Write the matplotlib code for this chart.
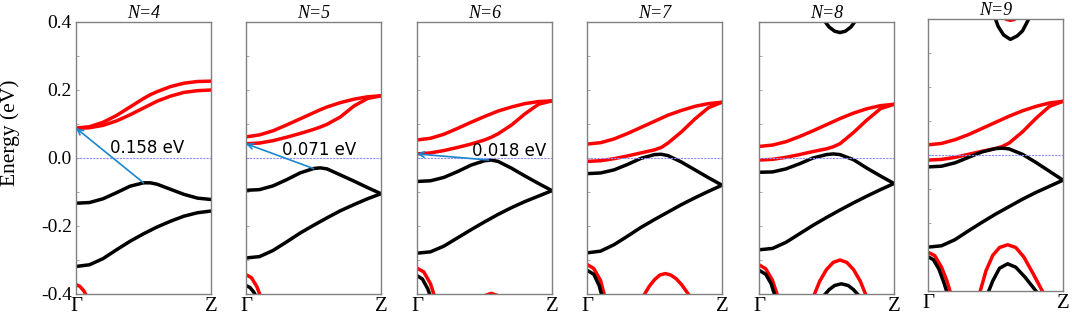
import matplotlib
matplotlib.use("Agg")
import matplotlib.pyplot as plt

plt.rcParams["font.family"] = ["Liberation Serif", "DejaVu Serif"]

# k path from Gamma (0) to Z (1)
k_path = [0, .1, .2, .3, .4, .5, .55, .6, .7, .8, .9, 1.0]
panel_titles = ["N=4", "N=5", "N=6", "N=7", "N=8", "N=9"]

# conduction bands (red), upper and lower branch, one row per panel
cb_upper = [
    [0.088, 0.092, 0.105, 0.125, 0.150, 0.175, 0.186, 0.195, 0.210, 0.220, 0.225, 0.226],
    [0.062, 0.068, 0.080, 0.097, 0.115, 0.133, 0.142, 0.150, 0.163, 0.173, 0.180, 0.183],
    [0.053, 0.058, 0.070, 0.087, 0.105, 0.122, 0.130, 0.138, 0.150, 0.160, 0.166, 0.168],
    [0.041, 0.045, 0.056, 0.072, 0.090, 0.108, 0.117, 0.126, 0.140, 0.152, 0.160, 0.164],
    [0.034, 0.038, 0.048, 0.063, 0.080, 0.098, 0.107, 0.116, 0.132, 0.145, 0.154, 0.158],
    [0.030, 0.034, 0.045, 0.060, 0.078, 0.096, 0.105, 0.114, 0.130, 0.143, 0.153, 0.158],
]
cb_lower = [
    [0.087, 0.089, 0.096, 0.109, 0.127, 0.147, 0.157, 0.167, 0.182, 0.193, 0.198, 0.200],
    [0.042, 0.044, 0.051, 0.061, 0.072, 0.084, 0.091, 0.099, 0.121, 0.153, 0.175, 0.183],
    [0.012, 0.015, 0.022, 0.031, 0.041, 0.053, 0.061, 0.071, 0.097, 0.130, 0.158, 0.168],
    [-0.010, -0.008, -0.002, 0.006, 0.015, 0.024, 0.031, 0.044, 0.077, 0.115, 0.148, 0.164],
    [-0.006, -0.004, 0.002, 0.010, 0.019, 0.027, 0.033, 0.042, 0.075, 0.112, 0.145, 0.158],
    [-0.015, -0.013, -0.007, 0.002, 0.011, 0.019, 0.025, 0.035, 0.068, 0.108, 0.143, 0.158],
]
# valence bands (black)
vb_upper = [
    [-0.133, -0.131, -0.120, -0.102, -0.083, -0.073, -0.073, -0.077, -0.092, -0.107, -0.118, -0.122],
    [-0.095, -0.093, -0.082, -0.064, -0.044, -0.031, -0.029, -0.032, -0.050, -0.068, -0.087, -0.105],
    [-0.069, -0.067, -0.057, -0.040, -0.021, -0.008, -0.006, -0.010, -0.030, -0.053, -0.075, -0.096],
    [-0.046, -0.044, -0.035, -0.019, -0.001, 0.010, 0.011, 0.007, -0.012, -0.035, -0.058, -0.080],
    [-0.042, -0.041, -0.032, -0.017, 0.000, 0.010, 0.012, 0.010, -0.005, -0.030, -0.053, -0.075],
    [-0.035, -0.033, -0.023, -0.007, 0.009, 0.019, 0.020, 0.018, 0.002, -0.022, -0.048, -0.074],
]
vb_lower = [
    [-0.319, -0.314, -0.296, -0.270, -0.245, -0.223, -0.213, -0.203, -0.186, -0.171, -0.161, -0.156],
    [-0.294, -0.290, -0.272, -0.247, -0.221, -0.198, -0.187, -0.176, -0.155, -0.137, -0.120, -0.105],
    [-0.280, -0.276, -0.259, -0.235, -0.211, -0.188, -0.177, -0.166, -0.146, -0.128, -0.112, -0.096],
    [-0.279, -0.274, -0.255, -0.230, -0.204, -0.181, -0.170, -0.159, -0.137, -0.117, -0.098, -0.080],
    [-0.270, -0.266, -0.248, -0.223, -0.198, -0.175, -0.164, -0.153, -0.132, -0.112, -0.093, -0.075],
    [-0.271, -0.267, -0.249, -0.223, -0.198, -0.174, -0.163, -0.152, -0.130, -0.110, -0.092, -0.074],
]

# partial bands cut by the energy window: (panel, colour, k, E)
edge_bands = [
    (0, "red", [0, 0.03, 0.06, 0.09], [-0.372, -0.378, -0.392, -0.415]),
    (1, "red", [0, 0.04, 0.08, 0.12], [-0.343, -0.352, -0.378, -0.42]),
    (1, "black", [0, 0.03, 0.06, 0.09], [-0.375, -0.381, -0.396, -0.42]),
    (2, "red", [0, 0.05, 0.1, 0.14], [-0.324, -0.335, -0.37, -0.42]),
    (2, "black", [0, 0.04, 0.08, 0.11], [-0.346, -0.356, -0.385, -0.42]),
    (2, "red", [0.5, 0.55, 0.6], [-0.405, -0.398, -0.405]),
    (3, "red", [0, 0.05, 0.1, 0.14], [-0.313, -0.325, -0.36, -0.42]),
    (3, "black", [0, 0.05, 0.09, 0.12], [-0.33, -0.342, -0.375, -0.42]),
    (3, "red", [0.42, 0.46, 0.5, 0.54, 0.58, 0.62, 0.66, 0.7, 0.75],
     [-0.405, -0.378, -0.358, -0.344, -0.34, -0.344, -0.355, -0.372, -0.4]),
    (4, "black", [0.48, 0.52, 0.56, 0.6, 0.64, 0.68, 0.72],
     [0.406, 0.385, 0.373, 0.369, 0.373, 0.385, 0.406]),
    (4, "red", [0, 0.05, 0.1, 0.15], [-0.314, -0.326, -0.36, -0.42]),
    (4, "black", [0, 0.05, 0.09, 0.13], [-0.33, -0.342, -0.37, -0.42]),
    (4, "red", [0.4, 0.45, 0.5, 0.55, 0.6, 0.65, 0.7, 0.75, 0.8],
     [-0.411, -0.362, -0.328, -0.307, -0.30, -0.307, -0.328, -0.362, -0.411]),
    (4, "black", [0.48, 0.52, 0.56, 0.61, 0.66, 0.7, 0.74],
     [-0.405, -0.387, -0.375, -0.37, -0.375, -0.387, -0.405]),
    (5, "black", [0.49, 0.52, 0.56, 0.61, 0.66, 0.7, 0.75],
     [0.41, 0.378, 0.353, 0.34, 0.35, 0.365, 0.403]),
    (5, "red", [0.54, 0.58, 0.61, 0.64, 0.68], [0.41, 0.399, 0.396, 0.399, 0.41]),
    (5, "red", [0, 0.05, 0.1, 0.14, 0.17], [-0.286, -0.296, -0.33, -0.37, -0.41]),
    (5, "black", [0, 0.04, 0.08, 0.12, 0.145], [-0.299, -0.308, -0.335, -0.378, -0.41]),
    (5, "red", [0.38, 0.43, 0.48, 0.53, 0.59, 0.65, 0.71, 0.78, 0.86],
     [-0.41, -0.34, -0.295, -0.272, -0.264, -0.272, -0.3, -0.35, -0.41]),
    (5, "black", [0.44, 0.48, 0.53, 0.59, 0.65, 0.72, 0.8, 0.82],
     [-0.41, -0.37, -0.333, -0.32, -0.33, -0.36, -0.4, -0.41]),
]

# band gap arrows: (panel, k of VBM, E of VBM, E of CBM, label, label k, label E)
gap_arrows = [
    (0, 0.50, -0.073, 0.088, "0.158 eV", 0.25, 0.030),
    (1, 0.50, -0.031, 0.042, "0.071 eV", 0.265, 0.024),
    (2, 0.53, -0.006, 0.012, "0.018 eV", 0.41, 0.022),
]

W, H = 1072, 315
panel_left = [76, 246, 417, 587, 759, 928]
panel_shift = [0, 0, 0, 0, 0, 3]

fig = plt.figure(figsize=(W / 100, H / 100), dpi=100)
axes = []
for i, title in enumerate(panel_titles):
    ax = fig.add_axes([panel_left[i] / W, (21 + panel_shift[i]) / H, 135 / W, 272 / H])
    axes.append(ax)
    ax.plot(k_path, cb_upper[i], color="red", lw=2.5)
    ax.plot(k_path, cb_lower[i], color="red", lw=2.5)
    ax.plot(k_path, vb_upper[i], color="black", lw=2.5)
    ax.plot(k_path, vb_lower[i], color="black", lw=2.5)
    ax.axhline(0, color="#8c8cff", lw=0.8, ls=(0, (2, 1)))

    ax.set_xlim(0, 1)
    ax.set_ylim(-0.4, 0.4)
    ax.set_xticks([0, 1], ["Γ", "Z"])
    ax.tick_params(axis="x", length=0, pad=2, labelsize=15)
    ax.set_yticks([-0.4, -0.3, -0.2, -0.1, 0.0, 0.1, 0.2, 0.3, 0.4])
    ax.tick_params(axis="y", direction="in", length=2, width=0.6, color="#999999",
                   labelsize=14, pad=3)
    if i == 0:
        ax.set_yticklabels(["-0.4", "", "-0.2", "", "0.0", "", "0.2", "", "0.4"])
    else:
        ax.set_yticklabels([])
    for sp in ax.spines.values():
        sp.set_color("#808080")
        sp.set_linewidth(1.0)
    ax.set_title(title, style="italic", fontsize=13, pad=1)

for p, color, ks, es in edge_bands:
    axes[p].plot(ks, es, color=color, lw=2.5)

for p, kv, ev, ec, label, lk, le in gap_arrows:
    ax = axes[p]
    ax.annotate("", xy=(0.0, ec), xytext=(kv, ev),
                arrowprops=dict(arrowstyle="->", color="#1a86d0", lw=1.2,
                                shrinkA=0, shrinkB=0))
    ax.text(lk, le, label, fontsize=12, ha="left", va="center", color="black",
            family="DejaVu Sans")

fig.text(10 / W, 1 - 133 / H, "Energy (eV)", rotation=90, ha="center", va="center",
         fontsize=15.5)

fig.savefig("out.png", dpi=100)
